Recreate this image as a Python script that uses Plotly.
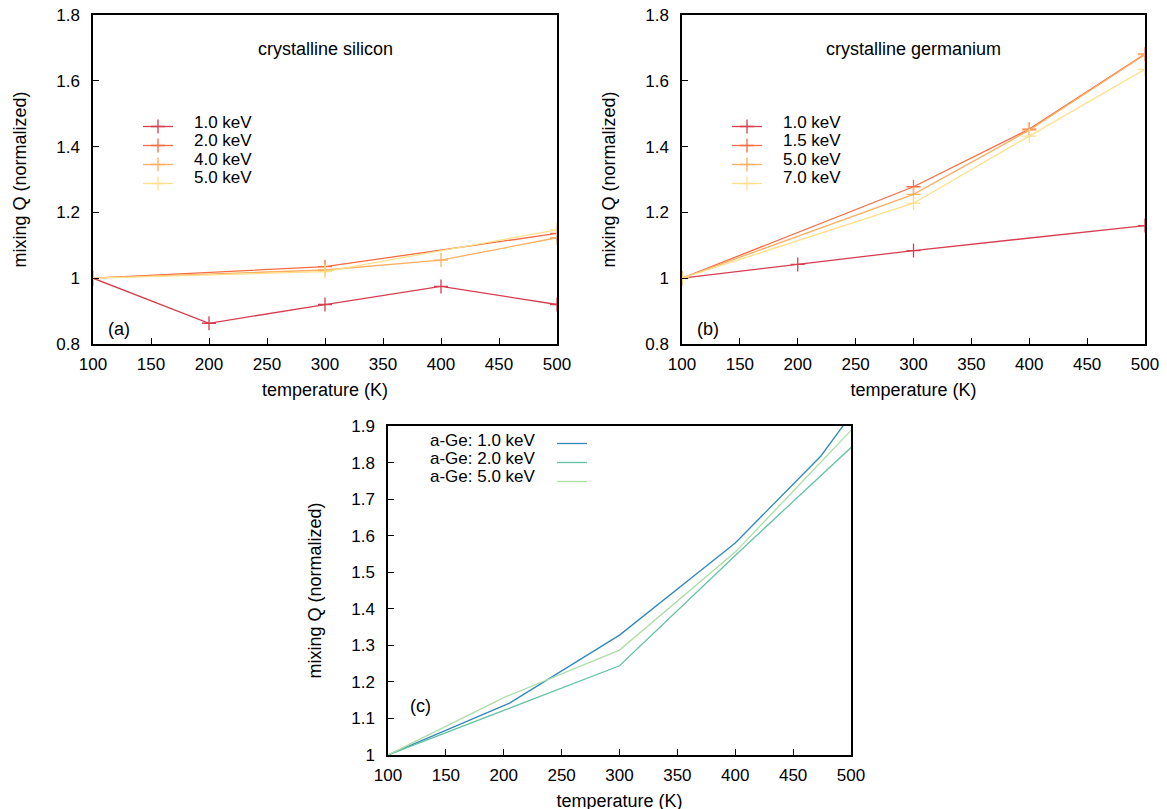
import plotly.graph_objects as go

# ---------------- data ----------------
# (a) crystalline silicon
si_labels = ["1.0 keV", "2.0 keV", "4.0 keV", "5.0 keV"]
si_T = [
    [100, 200, 300, 400, 500],
    [100, 300, 500],
    [100, 300, 400, 500],
    [100, 300, 500],
]
si_Q = [
    [1.0, 0.863, 0.92, 0.975, 0.92],
    [1.0, 1.035, 1.136],
    [1.0, 1.025, 1.055, 1.123],
    [1.0, 1.02, 1.147],
]

# (b) crystalline germanium
ge_labels = ["1.0 keV", "1.5 keV", "5.0 keV", "7.0 keV"]
ge_T = [
    [100, 200, 300, 500],
    [100, 300, 400, 500],
    [100, 300, 400, 500],
    [100, 300, 400, 500],
]
ge_Q = [
    [1.0, 1.042, 1.084, 1.16],
    [1.0, 1.278, 1.453, 1.681],
    [1.0, 1.255, 1.45, 1.68],
    [1.0, 1.228, 1.432, 1.635],
]

# (c) amorphous germanium
age_labels = ["a-Ge: 1.0 keV", "a-Ge: 2.0 keV", "a-Ge: 5.0 keV"]
age_T = [
    [100, 205, 300, 400, 474, 500],
    [100, 300, 400, 500],
    [100, 200, 300, 400, 500],
]
age_Q = [
    [1.0, 1.142, 1.328, 1.58, 1.818, 1.93],
    [1.0, 1.244, 1.546, 1.841],
    [1.0, 1.157, 1.287, 1.555, 1.888],
]

x_ticks = [100, 150, 200, 250, 300, 350, 400, 450, 500]

warm_colors = ["#d53e4f", "#f46d43", "#fdae61", "#fee08b"]
cool_colors = ["#3288bd", "#66c2a5", "#abdda4"]

FONT = "Liberation Sans, Arial, Helvetica, sans-serif"
W, H = 1167, 809
OFF = 8  # page body margin offset


def px_x(p):
    return (p - OFF) / W


def px_y(p):
    return 1 - (p - OFF) / H


fig = go.Figure()

# panel (a)
for lab, T, Q, c in zip(si_labels, si_T, si_Q, warm_colors):
    fig.add_trace(go.Scatter(
        x=T, y=Q, name=" ", mode="lines+markers",
        line=dict(color=c, width=1.3),
        marker=dict(symbol="cross-thin", size=10, line=dict(color=c, width=1.3)),
        hovertemplate=lab + ": %{x} K, %{y}<extra></extra>",
        xaxis="x", yaxis="y", legend="legend",
    ))

# panel (b)
for lab, T, Q, c in zip(ge_labels, ge_T, ge_Q, warm_colors):
    fig.add_trace(go.Scatter(
        x=T, y=Q, name=" ", mode="lines+markers",
        line=dict(color=c, width=1.3),
        marker=dict(symbol="cross-thin", size=10, line=dict(color=c, width=1.3)),
        hovertemplate=lab + ": %{x} K, %{y}<extra></extra>",
        xaxis="x2", yaxis="y2", legend="legend2",
    ))

# panel (c)
for lab, T, Q, c in zip(age_labels, age_T, age_Q, cool_colors):
    fig.add_trace(go.Scatter(
        x=T, y=Q, name=" ", mode="lines",
        line=dict(color=c, width=1.3),
        hovertemplate=lab + ": %{x} K, %{y}<extra></extra>",
        xaxis="x3", yaxis="y3", legend="legend3",
    ))

tickfont = dict(family=FONT, size=17, color="black")
titlefont = dict(family=FONT, size=18, color="black")


def xax(dom, anchor):
    return dict(
        domain=dom, anchor=anchor, range=[100, 500], tickvals=x_ticks,
        ticks="inside", ticklen=6, tickwidth=1, tickcolor="black",
        showline=True, linecolor="black", linewidth=1.5, mirror=True,
        showgrid=False, zeroline=False, tickfont=tickfont,
        ticklabelstandoff=4, automargin=False, ticklabeloverflow="allow",
        title=dict(text="temperature (K)", font=titlefont, standoff=10),
    )


def yax(dom, anchor, rng, dtick):
    return dict(
        domain=dom, anchor=anchor, range=rng, dtick=dtick, tick0=rng[0],
        ticks="inside", ticklen=6, tickwidth=1, tickcolor="black",
        showline=True, linecolor="black", linewidth=1.5, mirror=True,
        showgrid=False, zeroline=False, tickfont=tickfont,
        ticklabelstandoff=8, automargin=False, ticklabeloverflow="allow",
        title=dict(text="mixing Q (normalized)", font=titlefont, standoff=25),
    )


ya_dom = [px_y(344), px_y(15)]
yc_dom = [px_y(755), px_y(426)]

legend_common = dict(
    xanchor="left", yanchor="top", bgcolor="rgba(0,0,0,0)",
    borderwidth=0, font=dict(family=FONT, size=11.4, color="black"),
    itemwidth=30, tracegroupgap=0,
)

fig.update_layout(
    width=W, height=H,
    margin=dict(l=0, r=0, t=0, b=0, autoexpand=False),
    paper_bgcolor="white", plot_bgcolor="white",
    font=dict(family=FONT, size=17, color="black"),
    xaxis=xax([px_x(93), px_x(557)], "y"),
    yaxis=yax(ya_dom, "x", [0.8, 1.8], 0.2),
    xaxis2=xax([px_x(682), px_x(1145)], "y2"),
    yaxis2=yax(ya_dom, "x2", [0.8, 1.8], 0.2),
    xaxis3=xax([px_x(388), px_x(851)], "y3"),
    yaxis3=yax(yc_dom, "x3", [1.0, 1.9], 0.1),
    legend=dict(x=px_x(138), y=px_y(112), **legend_common),
    legend2=dict(x=px_x(727), y=px_y(112), **legend_common),
    legend3=dict(x=px_x(552), y=px_y(429), **legend_common),
    showlegend=True,
)

# legend labels (gnuplot-style key text)
key_font = dict(family=FONT, size=17, color="black")
key_rows_ab = [123, 141, 159, 177]
for lab, yy in zip(si_labels, key_rows_ab):
    fig.add_annotation(text=lab, x=px_x(192), y=px_y(yy), xref="paper", yref="paper",
                       xanchor="left", yanchor="middle", showarrow=False, font=key_font)
for lab, yy in zip(ge_labels, key_rows_ab):
    fig.add_annotation(text=lab, x=px_x(781), y=px_y(yy), xref="paper", yref="paper",
                       xanchor="left", yanchor="middle", showarrow=False, font=key_font)
for lab, yy in zip(age_labels, [440, 458, 476]):
    fig.add_annotation(text=lab, x=px_x(538), y=px_y(yy), xref="paper", yref="paper",
                       xanchor="right", yanchor="middle", showarrow=False, font=key_font)

annots = [
    dict(text="crystalline silicon", x=300, y=1.697, xref="x", yref="y"),
    dict(text="crystalline germanium", x=300, y=1.697, xref="x2", yref="y2"),
    dict(text="(a)", x=111, y=0.845, xref="x", yref="y", xanchor="left"),
    dict(text="(b)", x=111, y=0.845, xref="x2", yref="y2", xanchor="left"),
    dict(text="(c)", x=117, y=1.133, xref="x3", yref="y3", xanchor="left"),
]
for a in annots:
    fig.add_annotation(showarrow=False, font=titlefont, yanchor="middle", **a)

fig.write_html("out.html")
